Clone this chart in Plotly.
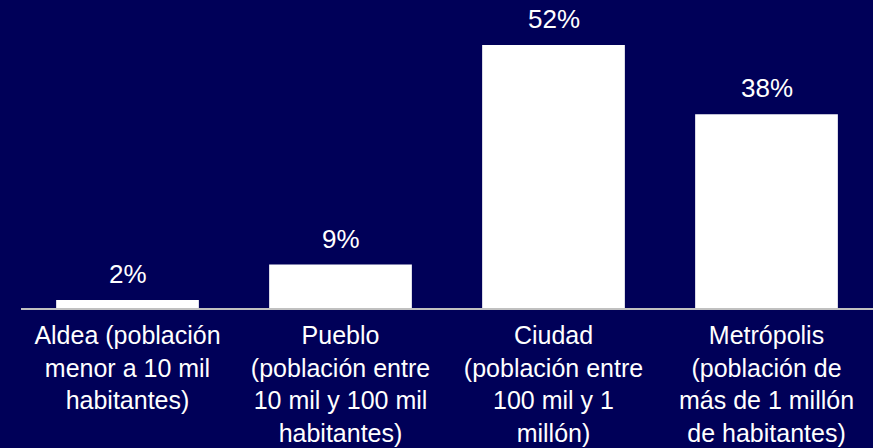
import plotly.graph_objects as go

categories = [
    "Aldea (población<br>menor a 10 mil<br>habitantes)",
    "Pueblo<br>(población entre<br>10 mil y 100 mil<br>habitantes)",
    "Ciudad<br>(población entre<br>100 mil y 1<br>millón)",
    "Metrópolis<br>(población de<br>más de 1 millón<br>de habitantes)",
]
values = [1.6, 8.6, 52, 38.3]
labels = ["2%", "9%", "52%", "38%"]

BG = "rgb(0,0,88)"
FONT = "Liberation Sans, Arial, sans-serif"

fig = go.Figure()
fig.add_trace(go.Bar(
    x=categories, y=values,
    marker=dict(color="white", line=dict(width=0)),
    hoverinfo="skip",
))
for c, v, t in zip(categories, values, labels):
    fig.add_annotation(x=c, y=v, text=t, showarrow=False, yanchor="bottom",
                       yshift=9, font=dict(family=FONT, size=26, color="white"))

fig.update_layout(
    width=873, height=448,
    margin=dict(l=21, r=0, t=0, b=140),
    paper_bgcolor=BG, plot_bgcolor=BG,
    bargap=0.33,
    showlegend=False,
    font=dict(family=FONT, color="white"),
)
fig.update_xaxes(
    showline=True, linecolor="#c0c0c0", linewidth=2,
    ticks="", ticklabelstandoff=4,
    tickfont=dict(family=FONT, size=25, color="white"),
    showgrid=False, zeroline=False,
)
fig.update_yaxes(range=[0, 60.9], visible=False, showgrid=False, zeroline=False)

fig.write_html("out.html", config={"displayModeBar": False},
               post_script="document.body.style.margin='0';document.body.style.background='rgb(0,0,88)';")
